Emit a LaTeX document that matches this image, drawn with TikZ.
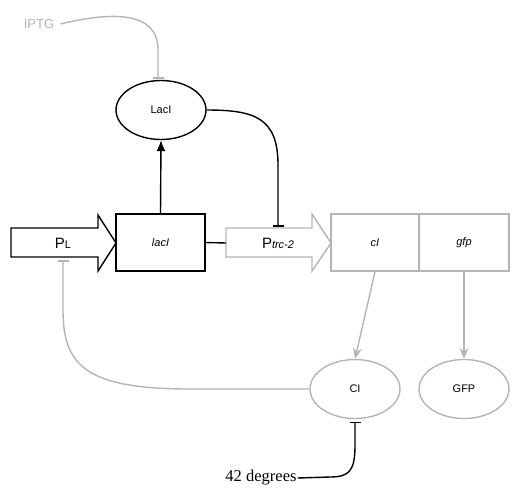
\documentclass[tikz,border=0pt]{standalone}
\usepackage{fontspec}
\setmainfont{Liberation Sans}
\newfontfamily\serifx{Liberation Serif}
\usetikzlibrary{arrows.meta,shapes.geometric,calc}
\definecolor{lg}{RGB}{180,180,180}
\begin{document}
\begin{tikzpicture}[x=1pt,y=-1pt,
  blk/.style={line width=1.4pt,draw=black},
  gry/.style={line width=1.4pt,draw=lg},
  prot/.style={ellipse,minimum width=90pt,minimum height=59pt,inner sep=0pt,font=\fontsize{11}{13}\selectfont},
  gene/.style={rectangle,minimum width=89pt,minimum height=57pt,inner sep=0pt,font=\fontsize{11}{13}\selectfont\itshape},
  inh/.style={-{Bar[width=11pt,line width=1.4pt]}, shorten >=-0.7pt},
  actblk/.style={-{Latex[length=11pt,width=9pt]}},
  actgry/.style={-{Stealth[length=11pt,width=9pt,inset=4pt]}},
  lbl/.style={inner sep=0pt}
]
\useasboundingbox (0,0) rectangle (521,496);

% proteins
\node[prot,blk] (LacIp) at (161,110) {LacI};
\node[prot,gry] (CIp) at (355,389) {CI};
\node[prot,gry] (GFPp) at (464,389) {GFP};

% genes
\node[gene,blk] (lacI) at (160.5,242.5) {lacI};
\node[gene,gry,minimum width=88pt] (cI) at (375,242.5) {cI};
\node[gene,gry,minimum width=90pt] (gfp) at (464,242.5) {gfp};

% promoters
\draw[blk] (11,228) -- (98,228) -- (98,215) -- (116,243) -- (98,271) -- (98,257) -- (11,257) -- cycle;
\node[lbl] (PL) at (63,243) {\fontsize{15}{17}\selectfont P{\fontsize{11}{13}\selectfont L}};
\draw[gry] (226,228) -- (312,228) -- (312,214) -- (331,243) -- (312,271) -- (312,257) -- (226,257) -- cycle;
\node[lbl] (Ptrc) at (278,243) {\fontsize{15}{17}\selectfont P{\fontsize{11}{13}\selectfont\itshape trc-2}};
\coordinate (PtrcL) at (226,243);
\coordinate (PtrcT) at (278,226);
\coordinate (PLB) at (63,261);

% labels
\node[lbl,text=lg,font=\fontsize{13}{15}\selectfont] (IPTG) at (39,24) {IPTG};
\node[lbl,font=\serifx\fontsize{16.5}{19}\selectfont] (deg) at (261,478) {42 degrees};

% connectors
\draw[blk,actblk] (lacI.north) -- (LacIp.south);
\draw[blk] (lacI.east) -- (PtrcL);
\draw[blk,inh] (LacIp.east) .. controls (255,110) and (278,118) .. (278,165) -- (PtrcT);
\draw[gry,inh] (IPTG.east) ++(6pt,0) .. controls (110,12) and (158,10) .. (158,50) -- ($(LacIp.north)+(-3,-2)$);
\draw[gry,actgry] (cI.south) -- (CIp.north);
\draw[gry,actgry] (gfp.south) -- (GFPp.north);
\draw[gry,inh] (CIp.west) -- (190,389) .. controls (85,389) and (63,365) .. (63,310) -- (PLB);
\draw[blk,inh] (deg.east) ++(1pt,0) -- (330,477) .. controls (350,477) and (355,470) .. (355,445) -- ($(CIp.south)+(0,3)$);
\end{tikzpicture}
\end{document}
